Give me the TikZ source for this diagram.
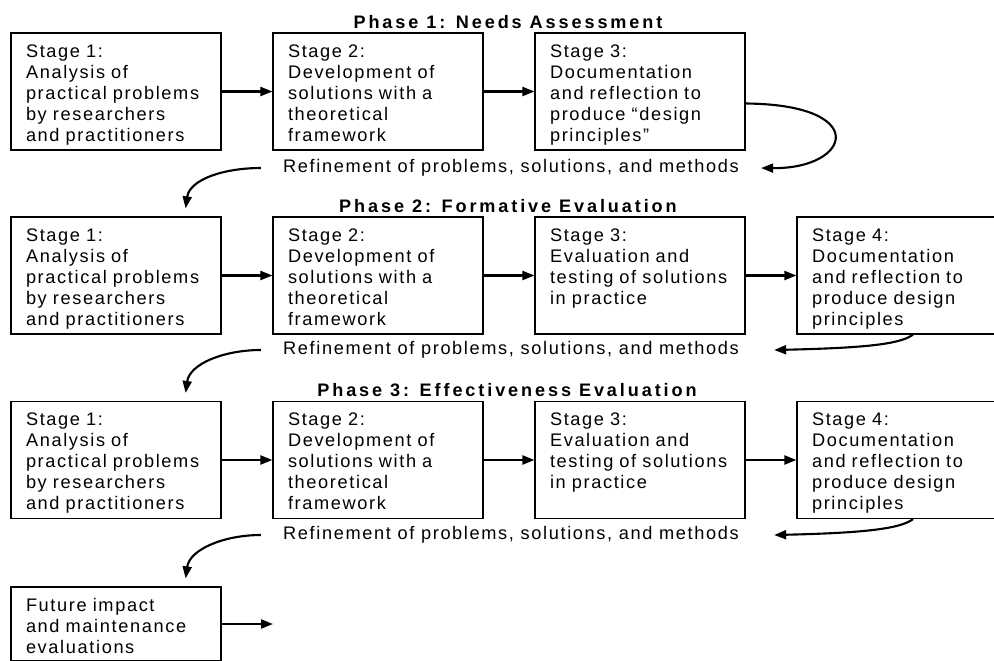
\documentclass[tikz,border=0pt]{standalone}
\usepackage{fontspec}
\setmainfont{Liberation Sans}[LetterSpace=9]
\newfontfamily\phasefont{Liberation Sans}[LetterSpace=16]
\usetikzlibrary{arrows.meta}

\begin{document}
\begin{tikzpicture}[x=0.02cm,y=-0.02cm,
  font=\fontsize{10.35}{12}\selectfont,
  stage/.style={draw,line width=0.7pt,inner xsep=0.3cm,inner ysep=0pt,
    text width=3.6cm,align=left,text height=0.48cm,text depth=1.86cm},
  phase/.style={font=\phasefont\fontsize{10.3}{12}\selectfont\bfseries},
  refine/.style={inner sep=0pt},
  flow/.style={line width=1.2pt,-{Triangle[length=2.4mm,width=1.8mm]}}]
\useasboundingbox (0,0) rectangle (994,660);
\clip (0,0) rectangle (994,660);

\node[phase] (ph1) at (508,22) {Phase 1: Needs Assessment};
\node[stage] (p1s1) at (116,91.5) {Stage 1:\\Analysis of\\practical problems\\by researchers\\and practitioners};
\node[stage] (p1s2) at (378,91.5) {Stage 2:\\Development of\\solutions with a\\theoretical\\framework};
\node[stage] (p1s3) at (640,91.5) {Stage 3:\\Documentation\\and reflection to\\produce “design\\principles”};
\node[refine] (ref1) at (511,168) {Refinement of problems, solutions, and methods};

\node[phase] (ph2) at (508,206) {Phase 2: Formative Evaluation};
\node[stage] (p2s1) at (116,275.5) {Stage 1:\\Analysis of\\practical problems\\by researchers\\and practitioners};
\node[stage] (p2s2) at (378,275.5) {Stage 2:\\Development of\\solutions with a\\theoretical\\framework};
\node[stage] (p2s3) at (640,275.5) {Stage 3:\\Evaluation and\\testing of solutions\\in practice};
\node[stage] (p2s4) at (902,275.5) {Stage 4:\\Documentation\\and reflection to\\produce design\\principles};
\node[refine] (ref2) at (511,350) {Refinement of problems, solutions, and methods};

\node[phase] (ph3) at (507,390) {Phase 3: Effectiveness Evaluation};
\node[stage] (p3s1) at (116,460) {Stage 1:\\Analysis of\\practical problems\\by researchers\\and practitioners};
\node[stage] (p3s2) at (378,460) {Stage 2:\\Development of\\solutions with a\\theoretical\\framework};
\node[stage] (p3s3) at (640,460) {Stage 3:\\Evaluation and\\testing of solutions\\in practice};
\node[stage] (p3s4) at (902,460) {Stage 4:\\Documentation\\and reflection to\\produce design\\principles};
\node[refine] (ref3) at (511,535) {Refinement of problems, solutions, and methods};

\node[stage,text depth=1.0cm] (fut) at (116,624) {Future impact\\and maintenance\\evaluations};
\coordinate (futend) at (273,624);

\draw[flow] (p1s1) -- (p1s2);
\draw[flow] (p1s2) -- (p1s3);
\draw[flow] ([yshift=-0.24cm]p1s3.east) .. controls +(126,1) and +(90,1) .. ([xshift=0.44cm]ref1.east);
\draw[flow] ([xshift=-0.44cm]ref1.west) .. controls +(-37,0) and +(4,-29) .. ([xshift=-0.72cm,yshift=0.16cm]p2s1.north east);

\draw[flow] (p2s1) -- (p2s2);
\draw[flow] (p2s2) -- (p2s3);
\draw[flow] (p2s3) -- (p2s4);
\draw[flow] ([xshift=0.22cm]p2s4.south) .. controls +(-13,10) and +(87,-2) .. ([xshift=0.7cm]ref2.east);
\draw[flow] ([xshift=-0.44cm]ref2.west) .. controls +(-37,0) and +(4,-29) .. ([xshift=-0.72cm,yshift=0.16cm]p3s1.north east);

\draw[flow] (p3s1) -- (p3s2);
\draw[flow] (p3s2) -- (p3s3);
\draw[flow] (p3s3) -- (p3s4);
\draw[flow] ([xshift=0.22cm]p3s4.south) .. controls +(-13,10) and +(87,-2) .. ([xshift=0.7cm]ref3.east);
\draw[flow] ([xshift=-0.44cm]ref3.west) .. controls +(-37,0) and +(4,-29) .. ([xshift=-0.72cm,yshift=0.16cm]fut.north east);

\draw[flow] (fut) -- (futend);
\end{tikzpicture}
\end{document}
